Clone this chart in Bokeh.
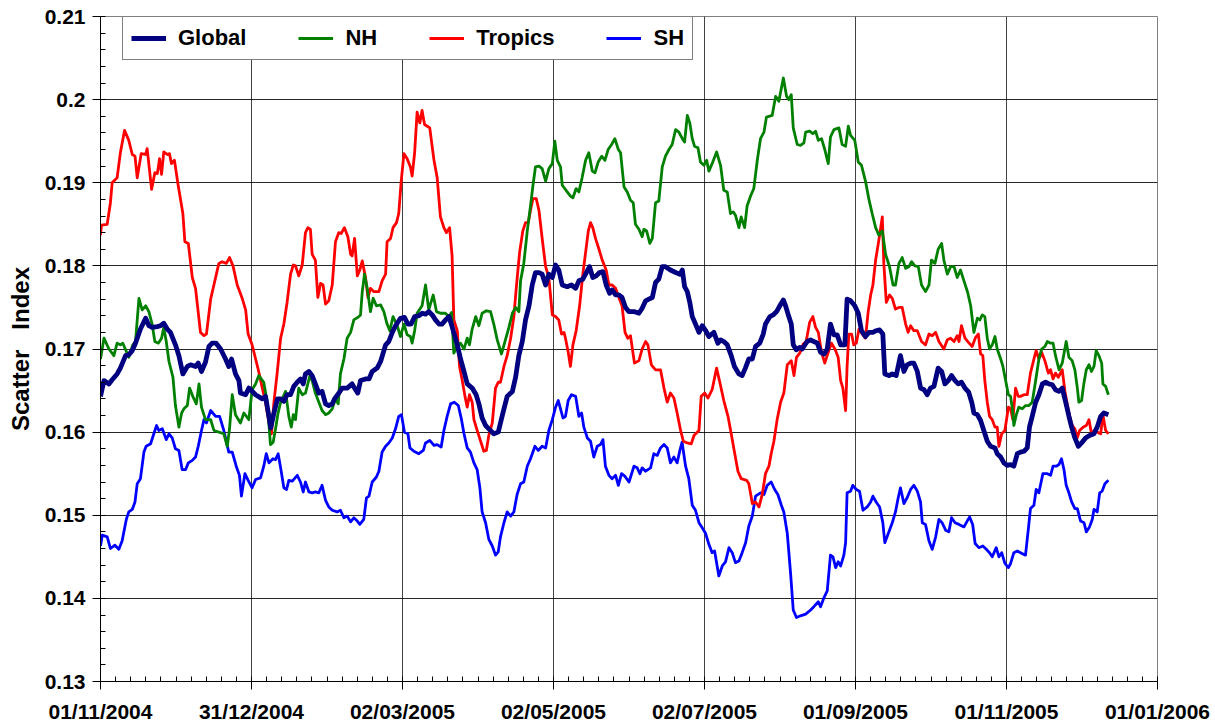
import math
from datetime import date, timedelta

from bokeh.plotting import figure
from bokeh.models import Range1d, FixedTicker, Legend, LegendItem
from bokeh.embed import file_html
from bokeh.resources import INLINE

# ---------------- data ----------------
START = date(2004, 11, 1)          # x = days since this date
END = date(2006, 1, 1)
SPAN = (END - START).days          # 426 days shown on the axis

series_names = ["Global", "NH", "Tropics", "SH"]

# (day offset, scatter index)
global_si = [
(0.0,.1643),(1.4,.1662),(3.4,.1658),(4.7,.1663),(6.7,.1670),(8.0,.1677),(10.1,.1692),(11.4,.1693),(12.8,.1698),(14.1,.1707),
(16.1,.1724),(18.2,.1737),(19.5,.1728),(20.8,.1726),(22.9,.1727),(24.2,.1728),(25.5,.1731),(26.9,.1724),(28.2,.1720),(30.2,.1705),
(31.6,.1692),(33.2,.1670),(35.0,.1679),(36.3,.1681),(38.3,.1679),(39.4,.1683),(40.7,.1673),(42.3,.1684),(43.7,.1703),(45.0,.1707),
(46.6,.1707),(48.4,.1700),(50.4,.1688),(51.7,.1679),(52.8,.1688),(54.4,.1670),(55.8,.1662),(56.4,.1647),(58.5,.1645),(59.8,.1653),
(62.5,.1645),(65.2,.1640),(66.5,.1643),(68.1,.1615),(68.6,.1605),(69.9,.1623),(71.3,.1640),(72.6,.1640),(73.9,.1637),(75.2,.1645),
(76.6,.1645),(77.9,.1655),(79.3,.1660),(80.6,.1664),(81.7,.1658),(82.6,.1670),(84.0,.1673),(85.3,.1668),(86.6,.1658),(88.0,.1647),
(89.3,.1649),(90.7,.1634),(92.0,.1632),(93.4,.1634),(94.3,.1640),(96.1,.1647),(97.4,.1653),(99.4,.1653),(101.4,.1658),(102.8,.1651),
(103.7,.1647),(104.8,.1662),(106.8,.1664),(108.2,.1664),(109.5,.1673),(111.5,.1677),(112.9,.1685),(114.9,.1705),(116.2,.1709),(117.6,.1720),
(118.9,.1728),(120.9,.1737),(122.5,.1738),(123.9,.1730),(125.2,.1730),(126.6,.1739),(128.3,.1740),(129.7,.1743),(131.0,.1742),(132.3,.1745),
(133.7,.1741),(135.0,.1735),(136.4,.1730),(137.7,.1730),(139.1,.1735),(140.4,.1739),(141.7,.1727),(143.8,.1705),(145.1,.1688),(146.5,.1673),
(147.8,.1658),(149.8,.1653),(151.4,.1645),(152.5,.1634),(153.8,.1617),(155.2,.1608),(156.5,.1604),(158.5,.1598),(160.3,.1600),(161.2,.1611),
(162.6,.1628),(163.9,.1643),(166.0,.1649),(167.3,.1666),(168.6,.1692),(170.0,.1709),(171.3,.1735),(172.7,.1752),(174.0,.1777),(175.3,.1792),
(176.7,.1792),(178.0,.1790),(179.4,.1777),(180.7,.1790),(182.1,.1786),(183.4,.1801),(184.7,.1795),(186.1,.1777),(188.1,.1775),(189.8,.1777),
(191.5,.1773),(192.8,.1782),(194.4,.1784),(195.5,.1790),(197.1,.1799),(198.4,.1786),(199.8,.1788),(201.1,.1792),(202.5,.1793),(203.8,.1777),
(205.2,.1767),(206.2,.1771),(207.6,.1765),(208.9,.1765),(210.2,.1762),(211.6,.1750),(212.9,.1745),(215.0,.1745),(217.0,.1743),(218.3,.1749),
(219.7,.1758),(221.0,.1760),(222.4,.1762),(223.7,.1780),(225.0,.1784),(226.4,.1799),(227.7,.1799),(229.7,.1795),(231.8,.1792),(233.5,.1790),
(234.5,.1795),(235.4,.1775),(236.5,.1769),(237.5,.1756),(238.5,.1739),(239.8,.1730),(241.2,.1720),(242.5,.1728),(243.9,.1722),(245.2,.1715),
(247.2,.1720),(248.8,.1707),(249.9,.1711),(251.2,.1709),(252.6,.1705),(254.2,.1692),(255.5,.1679),(257.3,.1670),(258.6,.1668),(259.9,.1677),
(261.3,.1688),(262.7,.1688),(264.0,.1703),(265.7,.1707),(267.1,.1718),(268.0,.1730),(269.8,.1739),(271.1,.1741),(272.5,.1745),(273.8,.1752),
(275.2,.1759),(276.1,.1752),(277.4,.1739),(278.4,.1730),(279.2,.1705),(280.4,.1699),(281.8,.1702),(282.8,.1700),(284.8,.1709),(286.2,.1711),
(287.5,.1709),(288.9,.1707),(290.2,.1696),(291.6,.1694),(292.9,.1700),(294.2,.1730),(295.6,.1717),(296.9,.1717),(298.3,.1705),(300.0,.1705),
(300.9,.1760),(302.3,.1758),(304.0,.1752),(305.4,.1743),(306.7,.1722),(308.3,.1715),(309.7,.1720),(311.3,.1720),(312.6,.1722),(314.0,.1723),
(315.3,.1718),(316.1,.1670),(317.8,.1668),(319.1,.1670),(320.7,.1668),(322.4,.1692),(323.8,.1673),(325.1,.1681),(326.5,.1683),(327.8,.1683),
(329.2,.1673),(330.5,.1653),(331.9,.1651),(333.2,.1645),(334.5,.1653),(335.9,.1655),(337.6,.1677),(339.0,.1673),(340.3,.1658),(341.7,.1662),
(343.0,.1668),(344.4,.1662),(345.7,.1658),(347.0,.1660),(348.4,.1653),(349.9,.1648),(351.2,.1635),(352.0,.1623),(353.4,.1621),(354.7,.1614),
(356.0,.1602),(357.4,.1589),(358.7,.1583),(360.5,.1581),(361.4,.1574),(362.8,.1570),(364.1,.1563),(365.4,.1560),(366.8,.1561),(368.1,.1559),
(369.5,.1574),(370.8,.1576),(372.2,.1577),(373.5,.1581),(374.4,.1606),(375.5,.1619),(376.9,.1636),(378.2,.1645),(379.6,.1658),(380.9,.1660),
(382.2,.1658),(383.6,.1657),(384.9,.1651),(386.3,.1649),(387.6,.1653),(389.0,.1636),(390.3,.1619),(391.4,.1606),(392.7,.1593),(394.1,.1583),
(395.4,.1587),(397.0,.1593),(398.6,.1596),(400.4,.1598),(401.7,.1606),(403.1,.1619),(404.4,.1623),(406.2,.1621)]

nh_si = [
(0.0,.1688),(1.4,.1713),(3.4,.1700),(5.4,.1692),(6.7,.1707),(8.0,.1705),(9.0,.1707),(11.4,.1690),(13.0,.1705),(14.1,.1709),
(15.5,.1761),(16.8,.1747),(18.2,.1752),(19.5,.1745),(20.8,.1730),(21.9,.1709),(23.3,.1707),(24.6,.1713),(25.5,.1726),(26.5,.1709),
(27.6,.1685),(29.2,.1666),(30.2,.1632),(31.6,.1606),(32.7,.1623),(33.6,.1628),(35.0,.1632),(35.9,.1653),(37.2,.1643),(38.6,.1634),
(39.7,.1658),(40.7,.1630),(42.3,.1615),(44.4,.1615),(45.7,.1602),(47.7,.1600),(49.7,.1598),(51.1,.1583),(52.0,.1604),(53.1,.1645),
(54.4,.1621),(56.4,.1611),(57.8,.1623),(59.8,.1615),(61.1,.1651),(62.5,.1658),(63.8,.1668),(65.8,.1660),(67.2,.1636),(68.5,.1585),
(69.6,.1588),(70.6,.1605),(71.5,.1622),(72.6,.1636),(74.6,.1649),(75.9,.1619),(76.9,.1606),(77.7,.1621),(78.6,.1615),(79.9,.1653),
(81.3,.1645),(82.6,.1647),(84.4,.1668),(85.3,.1662),(86.6,.1647),(88.0,.1636),(89.3,.1626),(90.7,.1621),(92.0,.1623),(93.4,.1628),
(94.7,.1640),(95.8,.1634),(96.7,.1670),(98.1,.1688),(99.4,.1713),(100.8,.1720),(102.1,.1735),(103.7,.1738),(104.8,.1741),(105.5,.1769),
(106.4,.1790),(107.5,.1773),(108.8,.1745),(109.9,.1761),(111.2,.1752),(112.9,.1753),(114.2,.1745),(115.5,.1730),(116.6,.1722),(117.9,.1739),
(119.6,.1728),(120.9,.1715),(122.3,.1730),(123.6,.1717),(124.9,.1715),(125.6,.1707),(126.6,.1722),(127.6,.1743),(129.6,.1752),(131.0,.1777),
(132.3,.1747),(134.1,.1765),(135.4,.1745),(137.0,.1743),(139.0,.1743),(140.4,.1739),(141.5,.1744),(142.4,.1695),(143.8,.1705),(145.1,.1707),
(146.5,.1700),(147.8,.1713),(148.7,.1705),(149.8,.1724),(151.2,.1739),(152.5,.1728),(153.8,.1743),(155.5,.1746),(157.2,.1745),(158.5,.1730),
(159.9,.1711),(161.6,.1694),(163.0,.1709),(164.6,.1726),(166.0,.1743),(167.3,.1750),(168.6,.1745),(169.3,.1782),(170.6,.1803),(172.0,.1842),
(173.3,.1872),(174.3,.1897),(175.3,.1919),(176.7,.1920),(178.0,.1917),(179.4,.1902),(180.7,.1917),(182.1,.1923),(183.1,.1950),(184.1,.1927),
(185.4,.1919),(186.1,.1897),(188.1,.1889),(189.4,.1884),(190.4,.1882),(191.7,.1893),(192.8,.1889),(194.1,.1906),(195.5,.1927),(196.8,.1936),
(198.2,.1914),(199.3,.1912),(200.6,.1925),(202.0,.1932),(203.3,.1927),(204.6,.1940),(206.0,.1946),(207.3,.1953),(208.7,.1940),(209.6,.1936),
(211.0,.1895),(212.3,.1889),(213.6,.1879),(214.7,.1876),(215.6,.1850),(217.0,.1844),(218.3,.1835),(219.0,.1844),(220.1,.1842),(221.4,.1827),
(222.4,.1833),(223.7,.1876),(225.0,.1878),(226.4,.1919),(227.7,.1932),(229.1,.1940),(230.4,.1946),(231.8,.1964),(233.1,.1961),(234.5,.1953),
(235.4,.1949),(236.5,.1981),(237.5,.1972),(238.5,.1953),(239.4,.1944),(240.8,.1942),(241.8,.1925),(243.2,.1921),(244.3,.1927),(245.2,.1914),
(246.5,.1923),(248.3,.1937),(249.9,.1921),(251.2,.1891),(252.6,.1889),(253.9,.1863),(255.0,.1865),(255.9,.1861),(257.3,.1846),(258.2,.1859),
(259.6,.1846),(260.6,.1872),(262.0,.1884),(263.3,.1893),(264.7,.1927),(266.0,.1953),(267.4,.1961),(268.4,.1979),(270.7,.1981),(272.1,.2004),
(273.4,.1998),(275.2,.2026),(276.5,.2004),(277.4,.2000),(278.4,.2006),(279.2,.1966),(280.8,.1946),(282.1,.1945),(283.5,.1948),(284.2,.1961),
(285.8,.1962),(287.1,.1959),(288.2,.1962),(289.3,.1951),(290.6,.1953),(291.9,.1940),(293.3,.1923),(294.2,.1955),(295.6,.1964),(297.6,.1966),
(298.9,.1946),(300.3,.1944),(301.4,.1968),(302.3,.1957),(304.0,.1951),(305.4,.1925),(306.7,.1921),(308.3,.1902),(309.7,.1880),(311.0,.1863),
(312.4,.1846),(313.7,.1837),(315.1,.1842),(316.4,.1814),(318.0,.1799),(319.4,.1777),(320.4,.1777),(321.8,.1803),(323.1,.1810),(324.5,.1797),
(325.8,.1799),(326.9,.1805),(328.2,.1800),(329.6,.1799),(330.9,.1777),(332.5,.1769),(333.9,.1777),(334.9,.1807),(336.3,.1803),(337.6,.1820),
(339.0,.1827),(339.9,.1807),(341.3,.1790),(342.6,.1799),(344.0,.1799),(345.3,.1786),(346.6,.1795),(348.0,.1782),(349.5,.1768),(350.7,.1752),
(352.0,.1720),(353.4,.1737),(354.4,.1735),(355.4,.1741),(356.4,.1739),(357.4,.1713),(358.3,.1700),(359.4,.1705),(360.5,.1715),(361.4,.1700),
(362.8,.1688),(363.7,.1679),(364.8,.1662),(365.9,.1645),(366.8,.1643),(367.5,.1628),(368.1,.1608),(369.1,.1621),(370.1,.1630),(371.5,.1628),
(372.8,.1632),(374.2,.1632),(375.5,.1636),(376.9,.1662),(378.2,.1688),(379.3,.1700),(380.6,.1703),(381.6,.1709),(382.9,.1707),(383.9,.1707),
(384.9,.1692),(386.3,.1675),(387.6,.1683),(389.2,.1709),(390.3,.1690),(391.6,.1686),(392.7,.1675),(393.7,.1653),(394.3,.1636),(395.4,.1638),
(396.3,.1658),(397.3,.1675),(398.4,.1681),(399.4,.1673),(400.4,.1679),(401.3,.1698),(402.4,.1692),(403.5,.1683),(404.0,.1658),(405.1,.1655),
(406.2,.1645)]

tropics_si = [
(0.0,.1837),(0.4,.1849),(2.7,.1850),(4.0,.1876),(4.7,.1900),(6.7,.1906),(8.0,.1936),(9.7,.1963),(11.4,.1951),(12.8,.1934),
(13.9,.1932),(14.8,.1906),(16.4,.1935),(18.2,.1934),(18.8,.1941),(20.6,.1892),(21.9,.1912),(22.9,.1911),(23.8,.1929),(24.6,.1910),
(25.5,.1937),(26.9,.1934),(27.8,.1935),(28.6,.1923),(29.8,.1927),(31.3,.1897),(33.2,.1863),(34.0,.1829),(35.4,.1827),(37.0,.1786),
(38.3,.1773),(40.3,.1720),(41.7,.1716),(42.7,.1718),(44.4,.1760),(45.7,.1777),(47.7,.1803),(49.0,.1805),(50.7,.1803),(52.0,.1810),
(53.4,.1800),(55.1,.1777),(57.1,.1761),(58.5,.1747),(59.5,.1718),(61.1,.1705),(63.6,.1675),(65.2,.1653),(66.5,.1636),(67.9,.1611),
(68.9,.1598),(69.9,.1636),(71.2,.1671),(72.6,.1713),(73.9,.1730),(75.2,.1756),(76.6,.1790),(77.7,.1801),(78.6,.1800),(79.9,.1788),
(81.3,.1801),(82.6,.1840),(83.6,.1846),(84.6,.1844),(85.3,.1814),(86.6,.1807),(87.6,.1762),(88.7,.1779),(89.7,.1777),(90.7,.1754),
(92.0,.1758),(93.4,.1777),(94.7,.1829),(96.0,.1840),(97.0,.1839),(98.3,.1846),(99.7,.1835),(100.8,.1814),(101.4,.1812),(102.4,.1833),
(103.5,.1788),(104.5,.1795),(105.5,.1806),(106.8,.1786),(107.8,.1762),(108.8,.1773),(110.2,.1769),(112.2,.1769),(113.5,.1782),(114.9,.1790),
(115.5,.1829),(116.9,.1833),(117.9,.1846),(119.3,.1852),(120.2,.1863),(121.2,.1902),(122.3,.1935),(123.6,.1929),(124.9,.1919),(125.6,.1908),
(126.6,.1936),(127.6,.1985),(128.7,.1972),(129.6,.1987),(130.6,.1970),(131.7,.1968),(132.7,.1966),(134.4,.1927),(135.7,.1906),(137.0,.1859),
(138.4,.1846),(139.4,.1840),(140.7,.1846),(141.7,.1812),(142.4,.1735),(143.8,.1722),(144.7,.1679),(145.8,.1662),(146.9,.1643),(147.8,.1630),
(148.7,.1645),(149.8,.1636),(150.5,.1615),(151.8,.1602),(153.2,.1589),(154.5,.1577),(155.5,.1578),(156.5,.1596),(157.9,.1611),(159.2,.1653),
(160.3,.1660),(161.2,.1660),(162.6,.1679),(163.9,.1692),(165.3,.1713),(166.6,.1739),(167.5,.1771),(168.9,.1816),(170.2,.1842),(171.3,.1852),
(172.4,.1852),(173.3,.1867),(174.3,.1881),(175.6,.1881),(176.7,.1867),(178.0,.1833),(179.4,.1799),(180.7,.1786),(182.1,.1741),(183.4,.1739),
(184.7,.1735),(185.8,.1718),(186.8,.1720),(187.4,.1713),(188.5,.1696),(189.4,.1679),(190.4,.1705),(191.7,.1722),(193.1,.1752),(194.4,.1790),
(195.5,.1816),(196.6,.1842),(197.5,.1852),(198.4,.1846),(199.5,.1833),(200.9,.1820),(202.2,.1807),(203.8,.1795),(204.9,.1777),(206.2,.1777),
(207.6,.1773),(208.9,.1762),(210.2,.1752),(211.4,.1720),(212.5,.1713),(213.6,.1716),(215.2,.1683),(217.0,.1686),(218.3,.1700),(219.7,.1709),
(220.6,.1705),(222.0,.1681),(223.7,.1675),(225.7,.1675),(227.1,.1653),(228.4,.1636),(229.7,.1647),(231.1,.1641),(232.4,.1623),(233.8,.1602),
(234.9,.1589),(236.5,.1587),(238.1,.1586),(239.2,.1596),(241.2,.1602),(242.1,.1643),(243.5,.1647),(244.8,.1641),(246.5,.1651),(248.3,.1677),
(249.6,.1660),(251.2,.1638),(252.9,.1619),(254.2,.1598),(255.5,.1576),(256.9,.1553),(258.2,.1544),(260.4,.1542),(261.3,.1538),(262.7,.1514),
(264.0,.1516),(265.4,.1510),(266.7,.1525),(268.0,.1550),(269.4,.1559),(270.3,.1574),(271.4,.1589),(272.7,.1615),(274.1,.1636),(275.4,.1647),
(276.8,.1681),(278.4,.1686),(279.5,.1668),(280.5,.1690),(281.8,.1695),(283.2,.1706),(284.4,.1709),(285.8,.1732),(287.1,.1739),(288.2,.1726),
(289.3,.1720),(290.6,.1696),(291.9,.1683),(293.3,.1696),(294.6,.1707),(296.0,.1700),(297.3,.1690),(298.3,.1662),(299.2,.1653),(300.3,.1626),
(300.9,.1679),(301.6,.1718),(302.7,.1718),(303.6,.1705),(304.6,.1707),(305.7,.1724),(307.0,.1718),(308.3,.1713),(309.4,.1745),(310.4,.1765),
(311.3,.1777),(312.4,.1807),(313.7,.1831),(315.1,.1859),(315.7,.1803),(316.7,.1756),(318.0,.1765),(319.1,.1761),(320.4,.1748),(321.8,.1750),
(323.1,.1750),(324.5,.1730),(325.5,.1720),(326.5,.1728),(327.8,.1722),(329.2,.1722),(330.9,.1709),(332.5,.1705),(333.9,.1718),(335.2,.1716),
(336.6,.1720),(337.9,.1709),(339.9,.1700),(341.3,.1711),(342.6,.1713),(344.0,.1709),(345.3,.1716),(346.0,.1709),(347.0,.1728),(348.4,.1713),
(349.8,.1708),(351.3,.1703),(352.7,.1714),(353.8,.1718),(354.7,.1694),(355.6,.1692),(356.4,.1662),(357.4,.1636),(358.3,.1619),(359.4,.1615),
(360.5,.1606),(361.4,.1606),(362.1,.1583),(363.2,.1598),(364.5,.1602),(365.9,.1630),(366.8,.1628),(367.7,.1615),(368.8,.1653),(369.9,.1643),
(370.8,.1643),(372.2,.1645),(373.5,.1645),(374.8,.1671),(376.2,.1688),(377.1,.1698),(378.2,.1688),(379.3,.1696),(380.6,.1686),(382.0,.1671),
(382.9,.1675),(383.9,.1664),(384.9,.1671),(386.0,.1666),(387.6,.1675),(388.7,.1649),(389.6,.1634),(390.6,.1619),(391.6,.1608),(392.7,.1604),
(393.7,.1593),(394.6,.1602),(396.0,.1606),(397.3,.1608),(398.4,.1615),(399.4,.1598),(400.4,.1602),(401.7,.1600),(403.1,.1598),(404.0,.1621),
(405.1,.1602),(406.2,.1598)]

sh_si = [
(0.0,.1463),(0.7,.1476),(2.7,.1474),(4.0,.1460),(5.8,.1464),(7.4,.1459),(8.7,.1469),(10.4,.1495),(11.4,.1504),(12.8,.1507),
(13.9,.1516),(14.8,.1538),(16.1,.1544),(17.5,.1576),(18.4,.1583),(20.2,.1586),(21.5,.1598),(22.6,.1608),(23.5,.1602),(24.9,.1604),
(26.5,.1591),(27.6,.1598),(28.9,.1593),(30.2,.1580),(31.6,.1578),(32.9,.1555),(34.3,.1555),(35.4,.1563),(37.0,.1566),(38.3,.1570),
(39.4,.1583),(40.7,.1602),(41.7,.1615),(42.7,.1611),(44.4,.1626),(46.4,.1619),(48.0,.1619),(49.7,.1602),(51.7,.1576),(53.1,.1576),
(54.7,.1559),(56.0,.1548),(56.8,.1523),(58.2,.1550),(59.5,.1542),(61.1,.1533),(62.5,.1543),(64.5,.1545),(65.8,.1559),(66.8,.1574),
(67.9,.1563),(69.5,.1568),(70.5,.1567),(71.6,.1574),(72.6,.1557),(73.9,.1533),(75.0,.1531),(75.9,.1542),(77.3,.1541),(79.3,.1548),
(80.6,.1540),(81.7,.1528),(82.6,.1540),(84.0,.1528),(85.3,.1527),(86.6,.1528),(88.0,.1527),(89.3,.1536),(90.7,.1518),(92.0,.1510),
(93.4,.1506),(95.4,.1504),(96.7,.1506),(98.1,.1497),(99.4,.1499),(100.8,.1492),(102.1,.1497),(103.5,.1493),(104.5,.1489),(106.1,.1495),
(107.2,.1521),(108.2,.1523),(109.5,.1540),(111.2,.1546),(112.2,.1553),(113.5,.1576),(114.9,.1583),(116.2,.1587),(117.6,.1593),(118.9,.1604),
(120.2,.1619),(121.3,.1621),(122.5,.1600),(123.9,.1598),(124.7,.1581),(126.3,.1577),(128.3,.1574),(130.1,.1578),(131.0,.1587),(132.7,.1590),
(134.4,.1584),(135.7,.1585),(137.3,.1582),(138.4,.1602),(139.7,.1619),(141.1,.1634),(142.6,.1636),(144.2,.1632),(145.5,.1615),(146.5,.1598),
(147.8,.1581),(149.1,.1576),(150.5,.1563),(151.8,.1555),(152.9,.1533),(153.8,.1504),(155.2,.1491),(156.5,.1471),(157.9,.1463),(159.2,.1452),
(160.3,.1456),(161.2,.1474),(162.6,.1491),(163.9,.1504),(165.3,.1499),(166.6,.1504),(167.9,.1525),(169.3,.1538),(170.6,.1540),(172.0,.1559),
(173.3,.1568),(175.1,.1583),(176.4,.1578),(178.0,.1583),(179.4,.1581),(180.7,.1602),(182.1,.1615),(183.4,.1630),(184.5,.1638),(185.4,.1628),
(186.4,.1617),(187.4,.1619),(188.5,.1638),(189.8,.1645),(191.5,.1643),(192.8,.1619),(193.9,.1623),(194.8,.1606),(196.2,.1593),(197.5,.1589),
(198.8,.1570),(200.2,.1583),(201.5,.1585),(202.5,.1591),(203.5,.1559),(204.9,.1548),(206.2,.1544),(207.6,.1548),(208.7,.1536),(210.0,.1550),
(211.3,.1547),(213.0,.1540),(215.0,.1559),(216.3,.1557),(217.4,.1550),(218.3,.1557),(219.7,.1553),(221.7,.1557),(223.0,.1574),(224.4,.1572),
(225.7,.1581),(227.1,.1585),(228.4,.1581),(229.7,.1563),(231.1,.1570),(232.4,.1563),(233.5,.1578),(234.4,.1588),(235.8,.1559),(237.1,.1544),
(238.5,.1512),(239.8,.1506),(241.2,.1491),(242.5,.1485),(243.9,.1478),(245.2,.1465),(246.5,.1455),(247.5,.1457),(249.2,.1427),(250.6,.1439),
(251.9,.1444),(253.3,.1461),(254.6,.1455),(255.9,.1443),(257.3,.1445),(258.6,.1455),(260.0,.1467),(261.3,.1487),(262.7,.1499),(264.0,.1523),
(266.0,.1527),(267.4,.1525),(268.7,.1536),(270.3,.1540),(271.7,.1531),(273.0,.1525),(274.4,.1512),(275.4,.1504),(276.8,.1478),(278.1,.1431),
(279.2,.1386),(280.5,.1377),(282.1,.1379),(284.2,.1381),(286.2,.1386),(287.5,.1390),(289.3,.1396),(290.2,.1390),(291.6,.1401),(292.9,.1409),
(294.2,.1452),(295.2,.1450),(296.3,.1437),(297.3,.1444),(298.3,.1439),(299.6,.1452),(300.3,.1467),(300.9,.1527),(302.3,.1529),(303.2,.1536),
(304.6,.1531),(305.9,.1529),(307.3,.1506),(309.0,.1510),(310.4,.1516),(311.3,.1523),(312.6,.1516),(314.0,.1510),(315.3,.1491),(316.1,.1467),
(317.5,.1478),(319.1,.1491),(320.4,.1504),(321.5,.1521),(322.4,.1533),(323.8,.1514),(325.1,.1521),(326.5,.1531),(327.8,.1536),(329.2,.1529),
(330.5,.1516),(331.2,.1491),(332.5,.1489),(333.9,.1469),(335.2,.1459),(336.6,.1474),(337.9,.1495),(339.2,.1491),(340.6,.1482),(341.9,.1480),
(343.0,.1497),(344.4,.1491),(346.0,.1489),(348.0,.1486),(349.3,.1493),(350.3,.1498),(351.5,.1489),(352.5,.1466),(354.0,.1461),(355.6,.1463),
(357.0,.1459),(358.3,.1455),(359.4,.1450),(361.0,.1461),(362.1,.1450),(363.2,.1455),(364.5,.1442),(365.9,.1437),(366.8,.1442),(368.1,.1455),
(369.5,.1457),(370.8,.1455),(372.8,.1452),(373.9,.1482),(374.8,.1508),(376.2,.1512),(377.1,.1531),(378.2,.1527),(379.8,.1550),(381.6,.1550),
(382.9,.1548),(383.9,.1559),(385.2,.1559),(386.3,.1561),(387.3,.1568),(388.3,.1555),(389.2,.1536),(390.3,.1527),(391.4,.1516),(392.7,.1508),
(393.7,.1508),(395.0,.1493),(396.4,.1491),(397.3,.1480),(398.6,.1486),(399.7,.1495),(400.4,.1507),(401.7,.1504),(402.7,.1527),(403.7,.1529),
(404.8,.1538),(406.2,.1542)]

y_ticks = [0.13, 0.14, 0.15, 0.16, 0.17, 0.18, 0.19, 0.20, 0.21]
y_minor_step = 0.002
n_x_major = 7          # 7 equal date intervals across the axis
n_x_minor_per = 10
y_title = "Scatter\u00a0\u00a0\u00a0Index"

# ---------------- figure ----------------
FONT = "Liberation Sans"

p = figure(width=1215, height=725, output_backend="svg", toolbar_location=None,
           x_range=Range1d(0, SPAN), y_range=Range1d(y_ticks[0], y_ticks[-1]),
           min_border_left=100, min_border_right=58, min_border_top=16, min_border_bottom=42)
p.background_fill_color = "white"
p.border_fill_color = "white"
p.outline_line_color = "#808080"
p.outline_line_width = 1

x_major = [SPAN * k / n_x_major for k in range(n_x_major + 1)]
x_minor = [SPAN * k / (n_x_major * n_x_minor_per) for k in range(n_x_major * n_x_minor_per + 1)]
x_labels = {t: (START + timedelta(days=int(math.floor(t + 1e-9)))).strftime("%d/%m/%Y") for t in x_major}

n_ymin = int(round((y_ticks[-1] - y_ticks[0]) / y_minor_step))
y_minor = [round(y_ticks[0] + i * y_minor_step, 4) for i in range(n_ymin + 1)]
y_labels = {t: ("%g" % t) for t in y_ticks}

p.xaxis.ticker = FixedTicker(ticks=x_major, minor_ticks=x_minor)
p.xaxis.major_label_overrides = x_labels
p.yaxis.ticker = FixedTicker(ticks=y_ticks, minor_ticks=y_minor)
p.yaxis.major_label_overrides = y_labels

for ax in (p.xaxis[0], p.yaxis[0]):
    ax.axis_line_color = "black"
    ax.axis_line_width = 1
    ax.major_tick_line_color = "black"
    ax.minor_tick_line_color = "black"
    ax.major_tick_out = 8
    ax.major_tick_in = 0
    ax.minor_tick_in = 5
    ax.minor_tick_out = 0
    ax.major_label_text_font = FONT
    ax.major_label_text_font_style = "bold"
    ax.major_label_text_color = "black"

p.xaxis.major_label_text_font_size = "21px"
p.xaxis.major_label_standoff = 10
p.yaxis.major_label_text_font_size = "21px"
p.yaxis.major_label_standoff = 7

p.yaxis.axis_label = y_title
p.yaxis.axis_label_text_font = FONT
p.yaxis.axis_label_text_font_style = "bold"
p.yaxis.axis_label_text_font_size = "24px"
p.yaxis.axis_label_text_color = "black"
p.yaxis.axis_label_standoff = 8

p.xgrid.grid_line_color = "black"
p.xgrid.grid_line_alpha = 0.75
p.ygrid.grid_line_color = "black"
p.ygrid.grid_line_alpha = 0.85

styles = {
    "Global": ("#000080", 4.8),
    "NH": ("#008000", 2.8),
    "Tropics": ("#FF0000", 2.8),
    "SH": ("#0000FF", 2.8),
}
data = {"Global": global_si, "NH": nh_si, "Tropics": tropics_si, "SH": sh_si}

renderers = {}
for name in ["SH", "Tropics", "NH", "Global"]:
    xs = [d for d, v in data[name]]
    ys = [v for d, v in data[name]]
    col, w = styles[name]
    renderers[name] = p.line(xs, ys, line_color=col, line_width=w, line_join="round")

legend = Legend(items=[LegendItem(label=n, renderers=[renderers[n]]) for n in series_names],
                orientation="horizontal", location=(22, 621))
legend.label_text_font = FONT
legend.label_text_font_style = "bold"
legend.label_text_font_size = "22px"
legend.label_text_color = "black"
legend.glyph_width = 35
legend.label_standoff = 12
legend.spacing = 52
legend.padding = 8
legend.margin = 0
legend.border_line_color = "black"
legend.border_line_width = 1
legend.background_fill_color = "white"
legend.background_fill_alpha = 1
p.add_layout(legend)

open("out.html", "w").write(file_html(p, INLINE))
